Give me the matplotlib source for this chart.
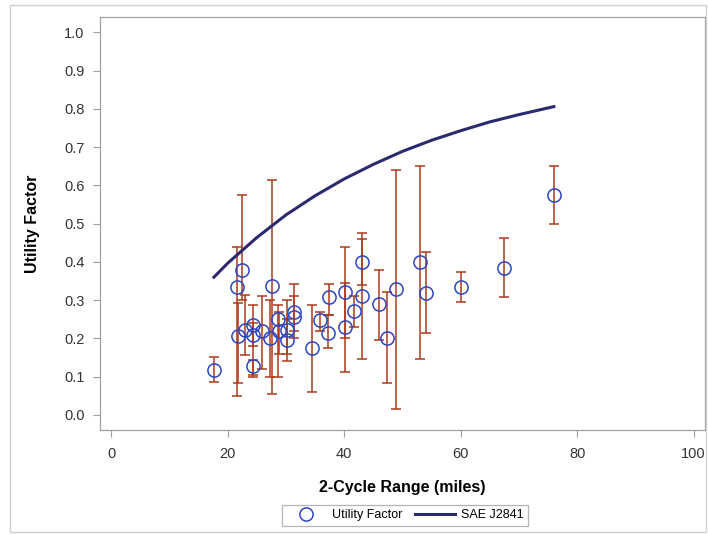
import numpy as np
import matplotlib
matplotlib.use("Agg")
import matplotlib.pyplot as plt
from matplotlib.patches import Rectangle

plt.rcParams["font.family"] = ["Liberation Sans", "DejaVu Sans"]

# observed utility factor per vehicle (2-cycle range, UF, lower, upper)
rng = [17.6, 21.6, 22.4, 21.8, 22.9, 24.4, 24.4, 24.4, 25.8, 27.2,
       27.6, 28.6, 28.7, 30.1, 30.1, 31.4, 31.4, 34.4, 35.9, 37.3,
       37.2, 40.2, 40.2, 41.6, 43.1, 43.1, 46.0, 47.4, 48.9, 53.0,
       54.1, 60.0, 67.4, 76.0]
uf = [0.118, 0.335, 0.378, 0.205, 0.222, 0.236, 0.209, 0.128, 0.220, 0.200,
      0.336, 0.250, 0.220, 0.222, 0.195, 0.269, 0.256, 0.176, 0.249, 0.307,
      0.214, 0.321, 0.229, 0.272, 0.400, 0.312, 0.290, 0.200, 0.330, 0.400,
      0.318, 0.333, 0.383, 0.574]
uf_lo = [0.085, 0.048, 0.300, 0.083, 0.157, 0.100, 0.180, 0.105, 0.120, 0.100,
         0.054, 0.098, 0.160, 0.160, 0.140, 0.220, 0.200, 0.061, 0.220, 0.260,
         0.176, 0.202, 0.113, 0.231, 0.340, 0.146, 0.196, 0.083, 0.016, 0.146,
         0.214, 0.296, 0.307, 0.498]
uf_hi = [0.150, 0.440, 0.575, 0.293, 0.314, 0.288, 0.240, 0.144, 0.310, 0.300,
         0.615, 0.288, 0.270, 0.300, 0.250, 0.343, 0.310, 0.286, 0.270, 0.343,
         0.260, 0.440, 0.346, 0.311, 0.476, 0.460, 0.380, 0.320, 0.640, 0.650,
         0.425, 0.373, 0.463, 0.650]

# SAE J2841 curve
sae_x = [17.6, 20, 25, 30, 35, 40, 45, 50, 55, 60, 65, 70, 76]
sae_y = [0.360, 0.397, 0.464, 0.523, 0.573, 0.617, 0.655, 0.689, 0.718, 0.743, 0.766, 0.785, 0.806]

x = np.array(rng)
y = np.array(uf)
yerr = np.vstack([y - np.array(uf_lo), np.array(uf_hi) - y])

fig = plt.figure(figsize=(7.08, 5.35), dpi=100)
ax = fig.add_axes([0.141, 0.196, 0.855, 0.772])

ax.errorbar(x, y, yerr=yerr, fmt="none", ecolor="#AC3A1C", elinewidth=1.1,
            capsize=3.6, capthick=1.1, zorder=2)
ax.plot(x, y, "o", ms=9.5, mfc="none", mec="#2C45C0", mew=1.1, zorder=3,
        label="Utility Factor")
ax.plot(sae_x, sae_y, "-", color="#2B2A6E", lw=2.2, zorder=4, label="SAE J2841")

ax.set_xlim(-2, 102)
ax.set_ylim(-0.04, 1.04)
ax.set_xticks([0, 20, 40, 60, 80, 100])
ax.set_yticks(np.arange(0, 1.01, 0.1))
ax.set_yticklabels([f"{v:.1f}" for v in np.arange(0, 1.01, 0.1)])

for s in ax.spines.values():
    s.set_color("#A0A0A0")
    s.set_linewidth(0.9)
ax.tick_params(colors="#A0A0A0", labelcolor="#333333", labelsize=10.5, length=5, width=0.8)
ax.tick_params(axis="x", pad=7)
ax.tick_params(axis="y", pad=6)

ax.set_xlabel("2-Cycle Range (miles)", fontsize=11.5, fontweight="bold", labelpad=14)
ax.set_ylabel("Utility Factor", fontsize=11.5, fontweight="bold", labelpad=17)

leg = fig.legend(loc="center", bbox_to_anchor=(0.572, 0.037), ncol=2, fontsize=9,
                 frameon=True, fancybox=False, edgecolor="#A0A0A0", handlelength=3.2,
                 handletextpad=0.5, columnspacing=1.0, borderpad=0.35)
leg.get_frame().set_linewidth(0.9)

fig.patches.append(Rectangle((0.014, 0.006), 0.983, 0.985, transform=fig.transFigure,
                             fill=False, edgecolor="#D0D0D0", lw=1.0))

fig.savefig("out.png", dpi=100, facecolor="white")
plt.close(fig)
